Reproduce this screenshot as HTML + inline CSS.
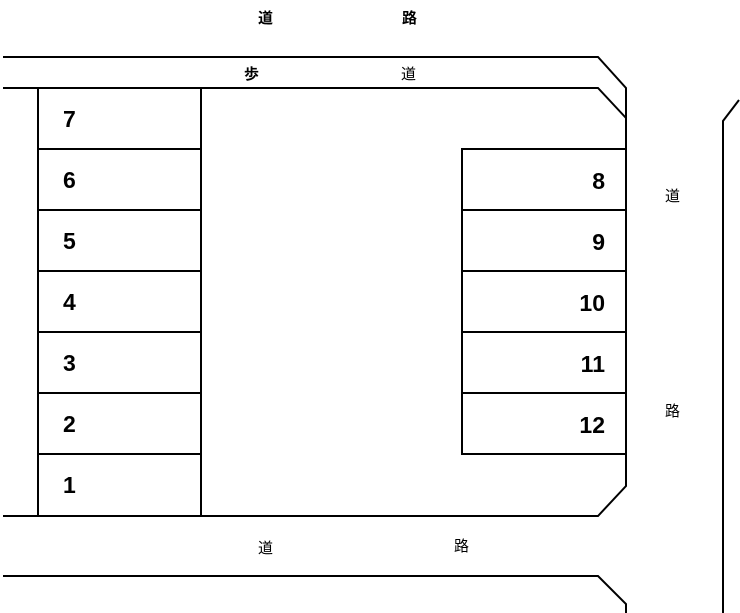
<!DOCTYPE html>
<html><head><meta charset="utf-8"><style>
html,body{margin:0;padding:0;background:#fff;}
svg{display:block;}
text{font-family:"Liberation Sans","Noto Sans CJK JP",sans-serif;}
.n{font-size:23px;font-weight:bold;font-family:"Liberation Sans Narrow","Liberation Sans",sans-serif;}
.k{font-size:15px;}
.kb{font-size:15px;font-weight:bold;}
</style></head><body>
<svg width="740" height="613" viewBox="0 0 740 613" xmlns="http://www.w3.org/2000/svg">
<g fill="none" stroke="#000" stroke-width="2">
<polyline points="3,57 598,57 626,88 626,486 598,516 3,516"/>
<polyline points="3,88 598,88 626,118"/>
<polyline points="3,576 598,576 626,604 626,613"/>
<polyline points="739,100 723,121 723,613"/>
<line x1="38" y1="88" x2="38" y2="516"/>
<line x1="201" y1="88" x2="201" y2="516"/>
<line x1="38" y1="149" x2="201" y2="149"/>
<line x1="38" y1="210" x2="201" y2="210"/>
<line x1="38" y1="271" x2="201" y2="271"/>
<line x1="38" y1="332" x2="201" y2="332"/>
<line x1="38" y1="393" x2="201" y2="393"/>
<line x1="38" y1="454" x2="201" y2="454"/>
<polyline points="626,149 462,149 462,454 626,454"/>
<line x1="462" y1="210" x2="626" y2="210"/>
<line x1="462" y1="271" x2="626" y2="271"/>
<line x1="462" y1="332" x2="626" y2="332"/>
<line x1="462" y1="393" x2="626" y2="393"/>
</g>
<g class="n">
<text x="63" y="127">7</text>
<text x="63" y="188">6</text>
<text x="63" y="249">5</text>
<text x="63" y="310">4</text>
<text x="63" y="371">3</text>
<text x="63" y="432">2</text>
<text x="63" y="493">1</text>
<g text-anchor="end">
<text x="605" y="189">8</text>
<text x="605" y="250">9</text>
<text x="605" y="311">10</text>
<text x="605" y="372">11</text>
<text x="605" y="433">12</text>
</g>
</g>
<text class="kb" x="258" y="23">道</text>
<text class="kb" x="402" y="23">路</text>
<text class="kb" x="244" y="79">歩</text>
<text class="k" x="401" y="79">道</text>
<text class="k" x="665" y="201">道</text>
<text class="k" x="665" y="416">路</text>
<text class="k" x="258" y="553">道</text>
<text class="k" x="454" y="551">路</text>
</svg>
</body></html>
